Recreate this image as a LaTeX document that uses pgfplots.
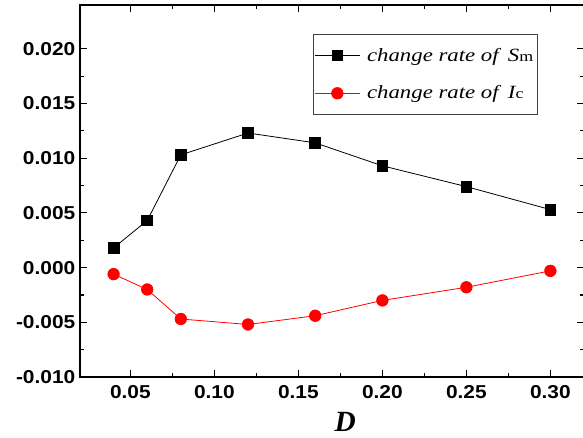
\documentclass[border=0pt]{standalone}
\usepackage{pgfplots}
\pgfplotsset{compat=1.18}
\usepackage{fontspec}
\setmainfont{Liberation Serif}
\setsansfont{Liberation Sans}[FakeStretch=1.12]
\newfontfamily\legfont{Liberation Serif}[FakeStretch=1.22]

\begin{document}
\begin{tikzpicture}
\begin{axis}[
    scale only axis,
    width=378pt, height=279pt,
    at={(0,0)}, anchor=south west,
    xmin=0.02, xmax=0.32,
    ymin=-0.010, ymax=0.024,
    xtick={0.05,0.10,0.15,0.20,0.25,0.30},
    ytick={-0.010,-0.005,0,0.005,0.010,0.015,0.020},
    minor x tick num=1, minor y tick num=1,
    scaled y ticks=false, scaled x ticks=false,
    x tick label style={yshift=-3pt, /pgf/number format/.cd, fixed, fixed zerofill, precision=2, assume math mode=true},
    y tick label style={/pgf/number format/.cd, fixed, fixed zerofill, precision=3, assume math mode=true},
    tick label style={font=\sffamily\bfseries\fontsize{14}{17}\selectfont},
    tick align=inside,
    major tick length=5pt, minor tick length=3pt,
    axis line style={line width=1pt},
    every tick/.style={line width=0.9pt, black},
    xlabel={\textbf{\textit{D}}},
    xlabel style={font=\fontsize{22}{24}\selectfont, yshift=-3pt, xshift=10pt},
    legend style={at={(rel axis cs:0.4617,0.9212)}, anchor=north west,
      draw=black!75, thin, fill=white,
      font=\legfont\fontsize{14}{16}\selectfont\itshape,
      inner xsep=1pt, inner ysep=8pt, row sep=13pt},
    legend cell align=left,
    legend image code/.code={
      \draw[#1] (0pt,0pt) -- (34pt,0pt);
      \draw[#1, only marks] plot coordinates {(17pt,0pt)};
    },
]
\addplot[black, line width=0.6pt, mark=square*, mark size=4pt, mark options={solid}] coordinates {
  (0.04,0.0018) (0.06,0.0043) (0.08,0.0103) (0.12,0.0123)
  (0.16,0.0114) (0.20,0.0093) (0.25,0.0074) (0.30,0.0053)
};
\addlegendentry{\hspace{3pt}change rate of\hspace{0.5em}S{\upshape\fontsize{11}{12}\selectfont m}}
\addplot[red, line width=0.6pt, mark=*, mark size=4.3pt, mark options={solid, fill=red}] coordinates {
  (0.04,-0.0006) (0.06,-0.0020) (0.08,-0.0047) (0.12,-0.0052)
  (0.16,-0.0044) (0.20,-0.0030) (0.25,-0.0018) (0.30,-0.0003)
};
\addlegendentry{\hspace{3pt}change rate of\hspace{0.5em}I{\upshape\fontsize{11}{12}\selectfont c}}
\end{axis}
\pgfresetboundingbox
\path[use as bounding box] (-60pt,-45.75pt) rectangle (377.25pt,282.75pt);
\end{tikzpicture}
\end{document}
